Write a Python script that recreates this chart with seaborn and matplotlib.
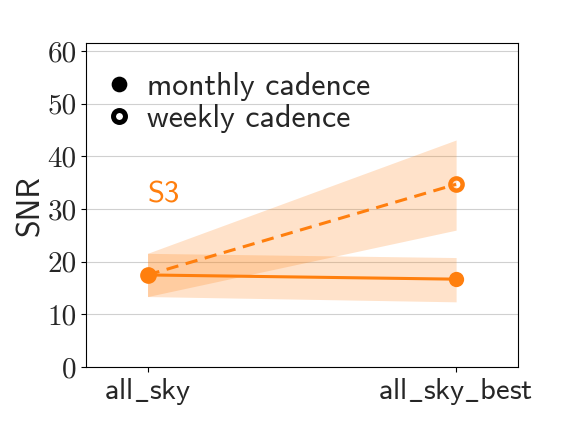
import matplotlib
matplotlib.use("Agg")
import matplotlib.pyplot as plt
import seaborn as sns
import pandas as pd
import numpy as np

categories = ["all_sky", "all_sky_best"]
monthly_snr = [17.5, 16.7]
monthly_low = [13.4, 12.4]
monthly_high = [21.6, 20.8]
weekly_snr = [17.5, 34.7]
weekly_low = [13.4, 26.0]
weekly_high = [21.6, 43.1]
series_label = "S3"
color = "#ff7f0e"

sns.set_theme(style="white")
plt.rcParams["axes.formatter.use_mathtext"] = True
plt.rcParams["mathtext.fontset"] = "cm"

fig = plt.figure(figsize=(5.76, 4.32), dpi=100)
ax = fig.add_axes([0.149, 0.150, 0.750, 0.7505])

xpos = np.arange(len(categories))
df = pd.DataFrame({
    "x": np.concatenate([xpos, xpos]),
    "snr": monthly_snr + weekly_snr,
    "cadence": ["monthly"] * 2 + ["weekly"] * 2,
})

ax.fill_between(xpos, monthly_low, monthly_high, color=color, alpha=0.22, lw=0)
ax.fill_between(xpos, weekly_low, weekly_high, color=color, alpha=0.22, lw=0)

sns.lineplot(data=df[df.cadence == "weekly"], x="x", y="snr", ax=ax,
             color=color, lw=2.2, linestyle="--", marker="o", markersize=8.8,
             markerfacecolor="none", markeredgecolor=color,
             markeredgewidth=3.2, legend=False)
ax.lines[-1].set_dashes((4, 2.5))
sns.lineplot(data=df[df.cadence == "monthly"], x="x", y="snr", ax=ax,
             color=color, lw=2.2, marker="o", markersize=11,
             markeredgewidth=0, legend=False)

ax.text(0, 32.7, series_label, color=color, fontsize=22, family="cmss10",
        ha="left", va="center")

def sf(s):
    return r"$\mathsf{" + s.replace("_", r"\_") + "}$"

ax.set_xlim(-0.2, 1.2)
ax.set_ylim(0, 61.5)
ax.set_xticks(xpos)
ax.set_xticklabels([sf(c) for c in categories], fontsize=22)
ax.set_yticks(np.arange(0, 61, 10))
ax.set_yticklabels([str(v) for v in range(0, 61, 10)], fontsize=21, family="cmr10")
ax.set_xlabel("")
ax.set_ylabel("SNR", fontsize=23, family="cmss10", labelpad=2)
ax.yaxis.grid(True, color="#d0d0d0", lw=0.8)
ax.xaxis.grid(False)
ax.set_axisbelow(True)
for s in ax.spines.values():
    s.set_color("black")
    s.set_linewidth(0.8)
ax.tick_params(axis="both", which="both", length=3.5, width=0.8, color="black",
               direction="out", left=True, bottom=True, pad=3)

h1 = plt.Line2D([], [], ls="none", marker="o", markersize=11.3, color="black",
                markeredgewidth=0)
h2 = plt.Line2D([], [], ls="none", marker="o", markersize=8.6, markerfacecolor="none",
                markeredgecolor="black", markeredgewidth=3.6)
ax.legend([h1, h2], ["monthly cadence", "weekly cadence"], loc="upper left",
          bbox_to_anchor=(0.012, 0.95), frameon=False,
          prop={"family": "cmss10", "size": 23},
          handletextpad=0.38, labelspacing=0.1, borderaxespad=0.0,
          handlelength=0.96)

fig.savefig("out.png", dpi=100)
